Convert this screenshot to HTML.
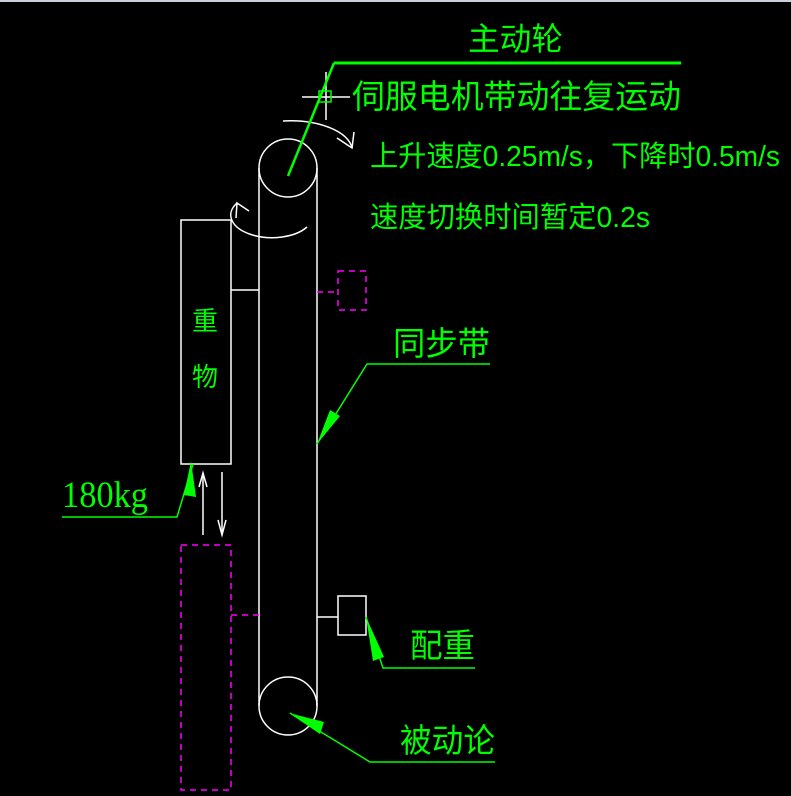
<!DOCTYPE html>
<html><head><meta charset="utf-8"><style>
html,body{margin:0;padding:0;background:#000;width:791px;height:796px;overflow:hidden}
svg{display:block}
text{font-family:"Liberation Sans","Noto Sans CJK SC",sans-serif;fill:#00ff00}
</style></head><body>
<svg width="791" height="796" viewBox="0 0 791 796" xmlns="http://www.w3.org/2000/svg">
<rect x="0" y="0" width="791" height="2" fill="#c8d0dc"/>
<g stroke="#fff" stroke-width="1.5" fill="none">
  <line x1="259" y1="168" x2="259" y2="706"/>
  <line x1="317" y1="168" x2="317" y2="706"/>
  <circle cx="288" cy="168" r="29"/>
  <circle cx="288" cy="706" r="29"/>
  <rect x="181" y="220" width="50" height="244"/>
  <line x1="231" y1="290" x2="259" y2="290"/>
  <rect x="338" y="596" width="28" height="39"/>
  <line x1="317" y1="617" x2="338" y2="617"/>
  <line x1="203" y1="535" x2="203" y2="473"/>
  <polyline points="199,487 203,473 207,487"/>
  <line x1="222" y1="472" x2="222" y2="535"/>
  <polyline points="218,520 222,535 226,520"/>
  <path d="M283,121 A62,30 0 0 1 352,148"/>
  <polyline points="337,138 352,148 354,132"/>
  <path d="M237,203 A40,22 0 0 0 307,227"/>
  <polyline points="236,218 237,203 249,211"/>
  <line x1="302" y1="97" x2="350" y2="97"/>
  <line x1="326" y1="72" x2="326" y2="120"/>
  <rect x="319" y="91" width="12" height="11" stroke="#00ff00"/>
</g>
<g stroke="#ff00ff" stroke-width="1.5" fill="none" stroke-dasharray="6,5">
  <rect x="181" y="545" width="50" height="245"/>
  <line x1="231" y1="615" x2="259" y2="615"/>
  <rect x="338" y="271" width="28" height="39"/>
  <line x1="317" y1="292" x2="338" y2="292"/>
</g>
<g stroke="#00ff00" stroke-width="1.5" fill="none">
  <line x1="288" y1="176" x2="334" y2="63" stroke-width="2.5"/>
  <line x1="334" y1="63" x2="681" y2="63" stroke-width="3"/>
  <polyline points="490,364 367,364 317,444"/>
  <polyline points="62,517 177,517 193,464"/>
  <polyline points="475,668 383,668 366,617"/>
  <polyline points="495,762 370,762 290,713"/>
</g>
<g fill="#00ff00">
  <polygon points="317,444 330,410 340,416"/>
  <polygon points="191,461 184,495 196,497"/>
  <polygon points="366,617 373,661 384,657"/>
  <polygon points="289,713 320,734 324,722"/>
</g>
<text x="468" y="50" font-size="32" textLength="95" lengthAdjust="spacingAndGlyphs">主动轮</text>
<text x="352" y="108" font-size="33" textLength="329" lengthAdjust="spacingAndGlyphs">伺服电机带动往复运动</text>
<text x="370" y="166" font-size="29" textLength="410" lengthAdjust="spacingAndGlyphs">上升速度0.25m/s，下降时0.5m/s</text>
<text x="370" y="227" font-size="29" textLength="280" lengthAdjust="spacingAndGlyphs">速度切换时间暂定0.2s</text>
<text x="192" y="330" font-size="26">重</text>
<text x="192" y="386" font-size="26">物</text>
<text x="393" y="355" font-size="33" textLength="97" lengthAdjust="spacingAndGlyphs">同步带</text>
<text x="62" y="507" font-size="37" style="font-family:'Liberation Serif',serif" textLength="86" lengthAdjust="spacingAndGlyphs">180kg</text>
<text x="410" y="657" font-size="33" textLength="65" lengthAdjust="spacingAndGlyphs">配重</text>
<text x="400" y="752" font-size="33" textLength="95" lengthAdjust="spacingAndGlyphs">被动论</text>
</svg>
</body></html>
